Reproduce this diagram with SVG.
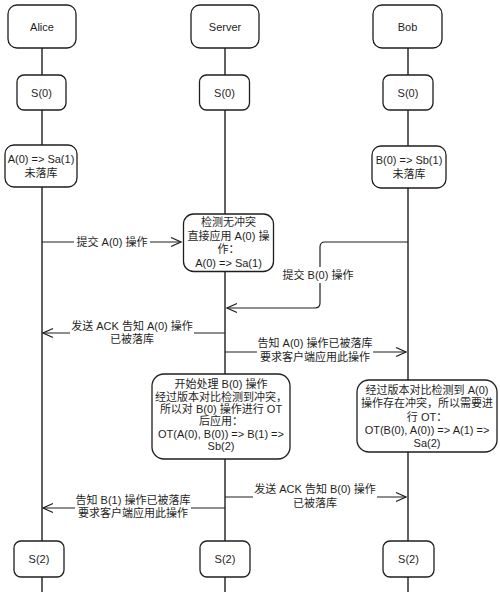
<svg xmlns="http://www.w3.org/2000/svg" width="500" height="598" viewBox="0 0 500 598">
<style>
.bg{fill:#ffffff}
.life{stroke:#1e1e1e;stroke-width:1.4;fill:none}
.box{fill:#ffffff;stroke:#1e1e1e;stroke-width:1.3}
.line{stroke:#1e1e1e;stroke-width:1.2;fill:none}
text{font-family:"Liberation Sans","Noto Sans CJK SC",sans-serif;font-size:11px;fill:#1e1e1e;text-anchor:middle;dominant-baseline:central}
.lbg{fill:#ffffff}
</style>
<defs>
<marker id="arr" viewBox="0 0 12 12" refX="11" refY="6" markerWidth="12" markerHeight="12" markerUnits="userSpaceOnUse" orient="auto">
<path d="M1,1.5 L11,6 L1,10.5" fill="none" stroke="#1e1e1e" stroke-width="1.2"/>
</marker>
</defs>
<rect class="bg" x="0" y="0" width="500" height="598"/>
<g id="lifelines">
<line class="life" x1="42" y1="48" x2="42" y2="592"/>
<line class="life" x1="225" y1="48" x2="225" y2="592"/>
<line class="life" x1="408" y1="48" x2="408" y2="592"/>
</g>
<g id="connectors">
<path class="line" d="M42,242 H181" marker-end="url(#arr)"/>
<rect class="lbg" x="74" y="234" width="76" height="16"/>
<text x="112" y="242">提交 A(0) 操作</text>
<path class="line" d="M408,242 H325 Q320,242 320,247 V303 Q320,308 315,308 H227" marker-end="url(#arr)"/>
<rect class="lbg" x="281" y="267" width="74" height="16"/>
<text x="318" y="275">提交 B(0) 操作</text>
<path class="line" d="M225,333 H43" marker-end="url(#arr)"/>
<rect class="lbg" x="70" y="319" width="124" height="28"/>
<text x="132" y="326">发送 ACK 告知 A(0) 操作</text>
<text x="132" y="339">已被落库</text>
<path class="line" d="M225,352 H406" marker-end="url(#arr)"/>
<rect class="lbg" x="257" y="336" width="116" height="28"/>
<text x="315" y="343">告知 A(0) 操作已被落库</text>
<text x="315" y="357">要求客户端应用此操作</text>
<path class="line" d="M225,497 H406" marker-end="url(#arr)"/>
<rect class="lbg" x="253" y="482" width="124" height="28"/>
<text x="315" y="489">发送 ACK 告知 B(0) 操作</text>
<text x="315" y="503">已被落库</text>
<path class="line" d="M225,508 H43" marker-end="url(#arr)"/>
<rect class="lbg" x="75" y="493" width="116" height="28"/>
<text x="133" y="500">告知 B(1) 操作已被落库</text>
<text x="133" y="513">要求客户端应用此操作</text>
</g>
<g id="alice-header"><rect class="box" x="8" y="5" width="68" height="43" rx="9"/><text x="42" y="27">Alice</text></g>
<g id="server-header"><rect class="box" x="191" y="5" width="68" height="43" rx="9"/><text x="225" y="27">Server</text></g>
<g id="bob-header"><rect class="box" x="373" y="5" width="69" height="43" rx="9"/><text x="407.5" y="27">Bob</text></g>
<g id="alice-s0"><rect class="box" x="17" y="75" width="49" height="35" rx="7"/><text x="41.5" y="92.5">S(0)</text></g>
<g id="server-s0"><rect class="box" x="199.5" y="75" width="50" height="35" rx="7"/><text x="224.5" y="92.5">S(0)</text></g>
<g id="bob-s0"><rect class="box" x="383" y="75" width="50" height="35" rx="7"/><text x="408" y="92.5">S(0)</text></g>
<g id="alice-a0"><rect class="box" x="5" y="145" width="72" height="42" rx="9"/><text x="41" y="159">A(0) =&gt; Sa(1)</text><text x="41" y="173">未落库</text></g>
<g id="bob-b0"><rect class="box" x="372" y="146" width="74" height="42" rx="9"/><text x="409" y="160">B(0) =&gt; Sb(1)</text><text x="409" y="174">未落库</text></g>
<g id="server-check"><rect class="box" x="183.5" y="214" width="90" height="57.5" rx="10"/>
<text x="228.5" y="221.5">检测无冲突</text>
<text x="228.5" y="235.5">直接应用 A(0) 操</text>
<text x="228.5" y="249">作：</text>
<text x="228.5" y="263">A(0) =&gt; Sa(1)</text></g>
<g id="server-ot"><rect class="box" x="152" y="374" width="138" height="85" rx="12"/>
<text x="221" y="384">开始处理 B(0) 操作</text>
<text x="221" y="396.5">经过版本对比检测到冲突，</text>
<text x="221" y="409">所以对 B(0) 操作进行 OT</text>
<text x="221" y="421">后应用：</text>
<text x="221" y="434">OT(A(0), B(0)) =&gt; B(1) =&gt;</text>
<text x="221" y="446">Sb(2)</text></g>
<g id="bob-ot"><rect class="box" x="357" y="380" width="140" height="72" rx="12"/>
<text x="427" y="390">经过版本对比检测到 A(0)</text>
<text x="427" y="403">操作存在冲突，所以需要进</text>
<text x="427" y="416.5">行 OT：</text>
<text x="427" y="430">OT(B(0), A(0)) =&gt; A(1) =&gt;</text>
<text x="427" y="442.5">Sa(2)</text></g>
<g id="alice-s2"><rect class="box" x="14" y="541" width="50" height="36" rx="7"/><text x="39" y="559">S(2)</text></g>
<g id="server-s2"><rect class="box" x="200" y="541" width="50" height="36" rx="7"/><text x="225" y="559">S(2)</text></g>
<g id="bob-s2"><rect class="box" x="383" y="541" width="51" height="36" rx="7"/><text x="408.5" y="559">S(2)</text></g>
</svg>
